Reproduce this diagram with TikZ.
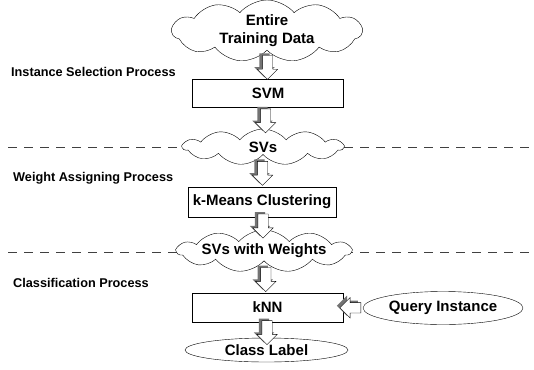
\documentclass[tikz,border=0pt]{standalone}
\usepackage{fontspec}
\setmainfont{Liberation Sans}
\usetikzlibrary{shapes.symbols, shapes.arrows, shapes.geometric, shadows}

\begin{document}
\begin{tikzpicture}[x=1pt, y=-1pt,
  txt/.style={font=\fontsize{15}{18}\selectfont\bfseries, align=center},
  stage/.style={txt, draw, fill=white, minimum width=151pt, minimum height=28pt, inner sep=0pt},
  puff/.style={txt, cloud, cloud puffs=11, cloud puff arc=100, cloud ignores aspect, draw, fill=white, inner sep=0pt},
  oval/.style={txt, ellipse, draw, fill=white, inner sep=0pt},
  phase/.style={font=\fontsize{12.7}{15}\selectfont\bfseries, anchor=base west, inner sep=0pt},
  sepline/.style={dash pattern=on 9pt off 7pt, gray!50!black},
  flow/.style={single arrow, draw, fill=white, inner sep=5pt, minimum height=24pt,
    single arrow head extend=5pt, shape border rotate=#1,
    general shadow={fill=gray!90!black, shadow xshift=-3pt, shadow yshift=2pt}},
]
  \useasboundingbox (0,0) rectangle (534,369);

  % phase separators
  \draw[sepline] (8,147) -- (534,147);
  \draw[sepline] (8,252) -- (534,252);

  \node[phase] at (11,76.5) {Instance Selection Process};
  \node[phase] at (13,181) {Weight Assigning Process};
  \node[phase] at (13,287) {Classification Process};

  \node[puff, minimum width=190pt, minimum height=62pt] (data) at (267,31) {Entire\\Training Data};
  \node[stage] (svm) at (268,93.5) {SVM};
  \node[puff, minimum width=160pt, minimum height=36pt] (svs) at (263,147) {SVs};
  \node[stage, minimum width=148pt, minimum height=30pt] (kmeans) at (262,202) {k-Means Clustering};
  \node[puff, minimum width=174pt, minimum height=40pt] (wsvs) at (264,251) {SVs with Weights};
  \node[stage, minimum height=29pt] (knn) at (267.5,307.5) {kNN};
  \node[oval, minimum width=160pt, minimum height=33pt] (query) at (443,308) {Query Instance};
  \node[oval, minimum width=163pt, minimum height=24pt] (label) at (266.5,350) {Class Label};

  % block arrows
  \path (data.south) -- (svm.north) node[midway, flow=270] {};
  \path (svm.south) -- (svs.north) node[midway, flow=270] {};
  \path (svs.south) -- (kmeans.north) node[midway, flow=270] {};
  \path (kmeans.south) -- (wsvs.north) node[midway, flow=270] {};
  \path (wsvs.south) -- (knn.north) node[midway, flow=270] {};
  \path (knn.south) -- (label.north) node[midway, flow=270] {};
  \path (query.west) -- (knn.east) node[midway, flow=180, minimum height=21pt] {};
\end{tikzpicture}
\end{document}
